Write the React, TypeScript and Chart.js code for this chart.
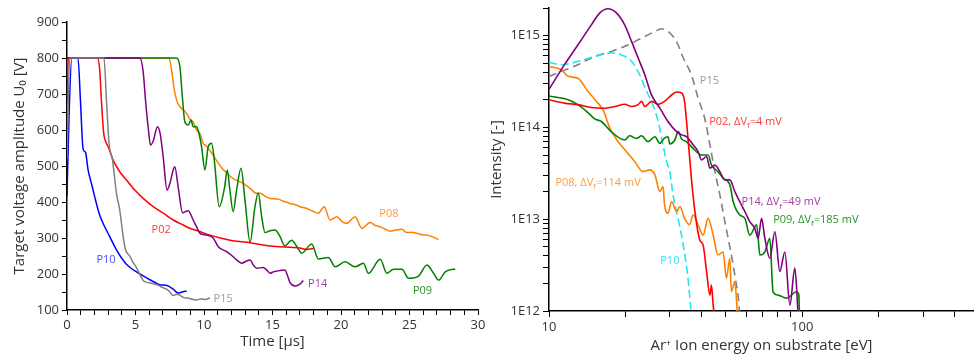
import React, { useEffect, useRef } from "react";
import { Chart, registerables } from "chart.js";

Chart.register(...registerables);

const FONT = "'Open Sans', 'DejaVu Sans', sans-serif";
Chart.defaults.font.family = FONT;

// ---------- Left panel: target voltage amplitude vs time ----------
// pairs: [time µs, voltage V]
const p10 = [[0,415],[0.15,640],[0.35,800],[0.8,800],[0.98,683],[1.17,548],[1.3,540],[1.37,536],[1.54,489],[1.78,452],[2.02,415],[2.34,369],[2.63,341],[3.12,304],[3.61,267],[4.22,232],[4.6,218],[5.07,206],[5.5,196],[6.05,184],[6.5,175],[6.78,170],[7.3,168],[7.75,158],[8.11,147],[8.4,150],[8.73,153]];
const p15 = [[0,520],[0.2,800],[2.7,800],[2.88,683],[3.07,563],[3.32,517],[3.61,424],[3.85,378],[4.1,304],[4.27,268],[4.58,250],[4.82,232],[5.07,218],[5.3,200],[5.56,182],[6.05,175],[6.4,172],[6.65,169],[7.0,162],[7.27,158],[7.5,150],[7.75,140],[8.0,144],[8.24,141],[8.5,135],[8.97,132],[9.2,129],[9.46,128],[9.8,131],[10.1,129],[10.43,134]];
const p02 = [[0,675],[0.1,800],[2.22,800],[2.39,767],[2.51,683],[2.68,591],[2.85,565],[3.0,554],[3.36,517],[3.85,484],[4.34,461],[4.95,433],[5.56,410],[6.29,387],[7.02,369],[7.75,350],[8.48,336],[8.97,327],[9.7,318],[10.43,308],[11.2,300],[11.9,294],[12.6,290],[13.36,287],[14.1,282],[14.8,278],[15.5,276],[16.28,274],[17.0,272],[17.5,268],[17.86,270],[18.0,271]];
const p14 = [[0,800],[5.31,800],[5.56,762],[5.73,683],[5.92,609],[6.1,558],[6.3,570],[6.6,609],[6.8,590],[7.02,526],[7.3,433],[7.5,450],[7.75,489],[7.87,498],[8.11,443],[8.44,370],[8.85,376],[9.21,350],[9.46,331],[9.7,313],[10.19,308],[10.67,300],[11.04,276],[11.65,262],[12.13,248],[12.38,239],[12.75,230],[13.1,236],[13.36,239],[13.6,225],[13.84,216],[14.33,218],[14.6,210],[14.82,202],[15.06,206],[15.3,208],[15.9,211],[16.1,195],[16.28,176],[16.64,167],[17.0,172],[17.25,182]];
const p09 = [[0,800],[8.0,800],[8.24,776],[8.44,683],[8.6,623],[8.85,614],[9.05,628],[9.21,609],[9.46,609],[9.63,591],[9.82,554],[10.07,489],[10.31,554],[10.55,563],[10.75,517],[11.11,387],[11.5,440],[11.7,489],[11.89,433],[12.13,373],[12.38,433],[12.7,494],[12.99,406],[13.36,288],[13.72,387],[13.96,425],[14.21,359],[14.45,315],[14.82,320],[15.18,322],[15.55,304],[15.9,278],[16.4,294],[16.8,275],[17.13,258],[17.86,283],[18.35,242],[19.08,246],[19.57,220],[20.3,234],[21.03,220],[21.64,230],[22.0,202],[22.86,241],[23.35,202],[23.83,213],[24.45,213],[24.93,188],[25.66,194],[26.27,225],[26.76,202],[27.12,183],[27.61,206],[28.34,214]];
const p08 = [[0,800],[7.45,800],[7.63,767],[7.8,720],[8.0,683],[8.24,665],[8.48,656],[8.73,646],[8.97,630],[9.21,622],[9.46,600],[9.7,590],[9.94,563],[10.19,555],[10.67,530],[11.0,510],[11.4,490],[11.8,475],[12.13,465],[12.62,456],[12.87,452],[13.36,438],[13.84,424],[14.09,424],[14.5,415],[14.82,410],[15.43,408],[15.8,402],[16.28,396],[16.7,392],[17.0,387],[17.5,382],[17.74,378],[18.35,369],[18.77,387],[19.2,350],[19.7,359],[20.1,345],[20.42,341],[21.03,359],[21.52,327],[22.13,343],[22.5,335],[22.86,331],[23.2,325],[23.6,319],[24.0,322],[24.45,324],[24.8,315],[25.2,316],[25.55,313],[25.9,309],[26.27,308],[26.7,303],[27.12,296]];

const leftLabels = [
  { pre: "P10", x: 2.15, y: 239, color: "#4a4aff" },
  { pre: "P15", x: 10.7, y: 130, color: "#9a9a9a" },
  { pre: "P02", x: 6.17, y: 324, color: "#ff3a3a" },
  { pre: "P14", x: 17.6, y: 174, color: "#a040a0" },
  { pre: "P09", x: 25.25, y: 154, color: "#2a922a" },
  { pre: "P08", x: 22.8, y: 366, color: "#ff9a3a" },
];

// ---------- Right panel: ion energy distribution ----------
// pairs: [energy eV, intensity]
const e14 = [[10.0,2.6e14],[11.5,4.8e14],[13.0,7.9e14],[14.7,1.31e15],[15.85,1.76e15],[17.1,1.96e15],[18.5,1.76e15],[19.9,1.31e15],[21.2,8.6e14],[22.5,5.7e14],[23.9,3.75e14],[25.4,2.26e14],[27.4,1.62e14],[29.5,1.16e14],[31.9,9.0e13],[33.4,8.3e13],[34.9,7.95e13],[37.1,6.46e13],[38.8,5.46e13],[40.0,4.43e13],[41.9,4.82e13],[43.2,3.6e13],[45.2,3.9e13],[47.3,3.3e13],[49.5,2.68e13],[51.8,2.68e13],[54.2,2.0e13],[56.7,1.55e13],[59.4,1.21e13],[62.1,9.4e12],[65.0,7.95e12],[67.0,6.2e12],[69.1,1.02e13],[71.2,6.2e12],[74.5,3.76e12],[78.0,7.3e12],[81.6,2.7e12],[85.4,4.4e12],[89.4,1.16e12],[93.5,2.93e12],[96.4,0.9e12]];
const e09 = [[10.0,2.2e14],[11.9,2.0e14],[13.0,1.77e14],[14.1,1.49e14],[15.15,1.24e14],[16.1,1.16e14],[17.6,9.0e13],[19.9,7.3e13],[20.8,8.1e13],[22.2,7.6e13],[23.2,8.1e13],[24.6,7.0e13],[26.2,7.9e13],[27.4,6.7e13],[28.5,7.6e13],[29.5,7.9e13],[30.0,6.6e13],[31.4,7.3e13],[32.4,9.0e13],[33.4,7.5e13],[34.9,7.0e13],[37.1,5.9e13],[40.0,5.0e13],[42.5,5.0e13],[43.8,3.9e13],[46.5,3.3e13],[48.7,2.8e13],[51.8,2.37e13],[53.4,1.55e13],[56.7,1.11e13],[59.4,1.02e13],[62.1,6.7e12],[66.1,8.7e12],[68.1,4.07e12],[71.2,4.4e12],[74.5,6.2e12],[76.7,1.62e12],[80.4,1.49e12],[86.7,1.38e12],[95.0,1.62e12],[97.0,1.5e12],[97.5,0.9e12]];
const e02 = [[10.0,2.0e14],[11.5,1.84e14],[13.0,1.77e14],[14.7,1.65e14],[16.35,1.62e14],[18.2,1.69e14],[19.9,1.79e14],[21.2,1.69e14],[22.5,1.77e14],[23.2,1.92e14],[23.9,1.69e14],[25.4,1.92e14],[27.0,1.79e14],[28.6,1.92e14],[30.0,2.17e14],[31.9,2.43e14],[33.4,2.37e14],[34.3,1.92e14],[35.4,7.6e13],[36.5,2.8e13],[37.7,1.21e13],[39.4,5.94e12],[40.6,5.25e12],[41.9,2.7e12],[43.2,1.49e12],[43.8,1.92e12],[44.5,1.16e12],[45.0,0.9e12]];
const e08 = [[10.0,4.6e14],[11.2,4.25e14],[11.9,3.6e14],[13.0,3.44e14],[14.26,2.46e14],[15.4,1.92e14],[16.35,1.55e14],[17.4,9.8e13],[18.75,7.0e13],[20.2,5.46e13],[21.8,4.25e13],[23.5,3.3e13],[25.0,3.45e13],[26.2,3.04e13],[27.4,2.0e13],[28.2,2.27e13],[28.6,1.43e13],[29.5,1.16e13],[30.5,1.55e13],[31.9,1.21e13],[32.9,1.37e13],[34.3,1.02e13],[35.9,8.7e12],[37.1,1.11e13],[38.8,8.7e12],[40.6,6.7e12],[42.5,1.02e13],[44.5,6.7e12],[46.5,4.07e12],[48.7,4.4e12],[50.2,2.27e12],[51.8,3.76e12],[52.5,1.62e12],[54.2,2.09e12],[55.5,0.9e12]];
const e10 = [[10.0,5.15e14],[11.2,4.82e14],[13.0,5.24e14],[15.15,5.93e14],[17.6,6.46e14],[19.3,6.17e14],[21.2,5.24e14],[22.8,3.75e14],[24.3,2.46e14],[25.4,1.92e14],[27.0,1.16e14],[28.2,6.46e13],[29.1,4.25e13],[30.0,3.3e13],[30.9,1.84e13],[32.4,1.0e13],[33.9,5.25e12],[35.4,2.27e12],[36.5,0.9e12]];
const e15 = [[10.0,3.59e14],[11.2,4.07e14],[13.0,4.82e14],[15.15,5.93e14],[17.6,6.73e14],[20.5,7.9e14],[22.5,9.0e14],[24.6,1.02e15],[26.2,1.11e15],[27.8,1.19e15],[29.5,1.11e15],[30.9,9.8e14],[32.3,8.0e14],[33.9,5.7e14],[36.5,3.75e14],[38.8,2.09e14],[41.2,1.26e14],[43.2,6.46e13],[45.2,3.3e13],[47.3,1.84e13],[49.5,9.4e12],[51.0,6.2e12],[53.4,3.17e12],[54.7,2.09e12],[55.8,1.49e12],[56.7,0.9e12]];

const energyTicks = [10, 20, 30, 40, 50, 60, 70, 80, 90, 100, 200, 300, 400];
const energyLabelValues = [10, 100];
const intensityDecades = [1e12, 1e13, 1e14, 1e15];
const intensityLabels = ["1E12", "1E13", "1E14", "1E15"];
const intensityMultipliers = [1, 2, 3, 4, 5, 6, 7, 8, 9];

const rightLabels = [
  { pre: "P15", x: 39.4, y: 3.22e14, color: "#9a9a9a" },
  { pre: "P02, \u0394V", sub: "f", post: "=4 mV", x: 42.9, y: 1.16e14, color: "#ff3a3a" },
  { pre: "P14, \u0394V", sub: "f", post: "=49 mV", x: 57.6, y: 1.53e13, color: "#a040a0" },
  { pre: "P09, \u0394V", sub: "f", post: "=185 mV", x: 76.8, y: 9.8e12, color: "#2a922a" },
  { pre: "P08, \u0394V", sub: "f", post: "=114 mV", x: 10.6, y: 2.5e13, color: "#ff9a3a" },
  { pre: "P10", x: 27.5, y: 3.54e12, color: "#3ae6f0" },
];

const TICK_COLOR = "#333";

function labelPlugin(labels: any[]) {
  return {
    id: "seriesLabels",
    afterDatasetsDraw(chart: any) {
      const { ctx, scales } = chart;
      ctx.save();
      ctx.textBaseline = "middle";
      ctx.textAlign = "left";
      for (const l of labels) {
        let px = scales.x.getPixelForValue(l.x);
        const py = scales.y.getPixelForValue(l.y);
        ctx.fillStyle = l.color;
        ctx.font = `11px ${FONT}`;
        ctx.fillText(l.pre, px, py);
        if (l.sub) {
          px += ctx.measureText(l.pre).width;
          ctx.font = `8px ${FONT}`;
          ctx.fillText(l.sub, px, py + 4);
          px += ctx.measureText(l.sub).width;
          ctx.font = `11px ${FONT}`;
          ctx.fillText(l.post, px, py);
        }
      }
      ctx.restore();
    },
  };
}

const toXY = (pts: number[][]) => pts.map(([x, y]) => ({ x, y }));

const axisGrid = (len: number) => ({
  display: true,
  drawOnChartArea: false,
  drawTicks: true,
  tickLength: len,
  tickColor: "#000",
  tickWidth: 1,
});
const axisBorder = { display: true, color: "#000", width: 1.5 };

export default function App() {
  const leftRef = useRef<HTMLCanvasElement>(null);
  const rightRef = useRef<HTMLCanvasElement>(null);

  useEffect(() => {
    const left = new Chart(leftRef.current as HTMLCanvasElement, {
      type: "line",
      data: {
        datasets: [
          { data: toXY(p15), borderColor: "#808080" },
          { data: toXY(p10), borderColor: "#0000ff" },
          { data: toXY(p14), borderColor: "#800080" },
          { data: toXY(p02), borderColor: "#ff0000" },
          { data: toXY(p09), borderColor: "#008000" },
          { data: toXY(p08), borderColor: "#ff8000" },
        ].map((d) => ({ ...d, borderWidth: 1.5, pointRadius: 0, cubicInterpolationMode: "monotone", fill: false })) as any,
      },
      options: {
        responsive: false,
        animation: false,
        devicePixelRatio: 1,
        events: [],
        layout: { padding: { top: 22, right: 8, left: 0, bottom: 0 } },
        plugins: { legend: { display: false }, tooltip: { enabled: false } },
        scales: {
          x: {
            type: "linear",
            min: 0,
            max: 30,
            ticks: {
              stepSize: 1,
              autoSkip: false,
              maxRotation: 0,
              color: TICK_COLOR,
              font: { size: 13 },
              padding: 2,
              callback: (v: any) => (v % 5 === 0 ? String(v) : ""),
            },
            grid: axisGrid(5),
            border: axisBorder,
            title: { display: true, text: "Time [\u03bcs]", color: TICK_COLOR, font: { size: 15 }, padding: { top: 0, bottom: 8 } },
            afterFit: (s: any) => { s.height = 49; s.paddingLeft = 0; s.paddingRight = 0; },
          },
          y: {
            type: "linear",
            min: 100,
            max: 900,
            ticks: {
              stepSize: 50,
              autoSkip: false,
              color: TICK_COLOR,
              font: { size: 13 },
              padding: 3,
              callback: (v: any) => (v % 100 === 0 ? String(v) : ""),
            },
            grid: axisGrid(5),
            border: axisBorder,
            title: { display: true, text: "Target voltage amplitude U\u2080 [V]", color: TICK_COLOR, font: { size: 15 }, padding: { top: 11, bottom: 0 } },
            afterFit: (s: any) => { s.width = 67; s.paddingTop = 0; s.paddingBottom = 0; },
          },
        },
      } as any,
      plugins: [labelPlugin(leftLabels)],
    });

    const right = new Chart(rightRef.current as HTMLCanvasElement, {
      type: "line",
      data: {
        datasets: [
          { data: toXY(e14), borderColor: "#800080" },
          { data: toXY(e02), borderColor: "#ff0000" },
          { data: toXY(e09), borderColor: "#008000" },
          { data: toXY(e08), borderColor: "#ff8000" },
          { data: toXY(e10), borderColor: "#1ee8f0", borderDash: [8, 4] },
          { data: toXY(e15), borderColor: "#808080", borderDash: [8, 5] },
        ].map((d) => ({ borderWidth: 1.6, pointRadius: 0, cubicInterpolationMode: "monotone", fill: false, ...d })) as any,
      },
      options: {
        responsive: false,
        animation: false,
        devicePixelRatio: 1,
        events: [],
        layout: { padding: { top: 8, right: 0, left: 0, bottom: 0 } },
        plugins: { legend: { display: false }, tooltip: { enabled: false } },
        scales: {
          x: {
            type: "logarithmic",
            min: 10,
            max: 477,
            afterBuildTicks: (s: any) => { s.ticks = energyTicks.map((v) => ({ value: v })); },
            ticks: {
              autoSkip: false,
              maxRotation: 0,
              color: TICK_COLOR,
              font: { size: 13 },
              padding: 2,
              callback: (v: any) => (energyLabelValues.includes(v) ? String(v) : ""),
            },
            grid: axisGrid(6),
            border: axisBorder,
            title: { display: true, text: "Ar\u207a Ion energy on substrate [eV]", color: TICK_COLOR, font: { size: 15 }, padding: { top: 0, bottom: 4 } },
            afterFit: (s: any) => { s.height = 48; s.paddingLeft = 0; s.paddingRight = 0; },
          },
          y: {
            type: "logarithmic",
            min: 1e12,
            max: 2e15,
            afterBuildTicks: (s: any) => {
              const vals: number[] = [];
              intensityDecades.forEach((d) => {
                intensityMultipliers.forEach((m) => {
                  if (d * m <= 2e15) vals.push(d * m);
                });
              });
              s.ticks = vals.map((v) => ({ value: v }));
            },
            ticks: {
              autoSkip: false,
              color: TICK_COLOR,
              font: { size: 13 },
              padding: 3,
              callback: (v: any) => {
                const i = intensityDecades.findIndex((d) => Math.abs(d - v) / d < 1e-6);
                return i >= 0 ? intensityLabels[i] : "";
              },
            },
            grid: axisGrid(6),
            border: axisBorder,
            title: { display: true, text: "Intensity [-]", color: TICK_COLOR, font: { size: 15 }, padding: { top: 2, bottom: 0 } },
            afterFit: (s: any) => { s.width = 63; s.paddingTop = 0; s.paddingBottom = 0; },
          },
        },
      } as any,
      plugins: [labelPlugin(rightLabels)],
    });

    return () => {
      left.destroy();
      right.destroy();
    };
  }, []);

  return (
    <div style={{ position: "absolute", left: 0, top: 0, width: 974, height: 359, background: "#fff", overflow: "hidden" }}>
      <canvas ref={leftRef} width={486} height={359} style={{ position: "absolute", left: 0, top: 0, width: 486, height: 359 }} />
      <canvas ref={rightRef} width={488} height={359} style={{ position: "absolute", left: 486, top: 0, width: 488, height: 359 }} />
    </div>
  );
}
